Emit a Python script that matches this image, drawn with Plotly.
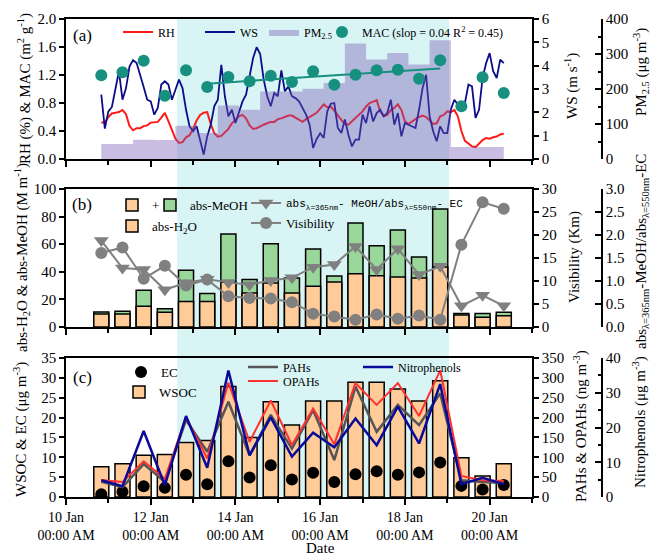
import numpy as np
import pandas as pd
import plotly.graph_objects as go

# ---------------- data ----------------
line_start = "2020-01-10 20:00"     # first 2-hourly meteorological record
sample_start = "2020-01-10 20:00"   # centre of first 12-h filter sample

rh = [0.52, 0.52, 0.60, 0.65, 0.66, 0.67, 0.70, 0.64, 0.47, 0.41,
      0.44, 0.44, 0.47, 0.48, 0.52, 0.53, 0.53, 0.59, 0.66, 0.54,
      0.41, 0.29, 0.23, 0.24, 0.31, 0.34, 0.43, 0.55, 0.63, 0.66,
      0.67, 0.50, 0.37, 0.32, 0.33, 0.38, 0.43, 0.51, 0.56, 0.61,
      0.63, 0.58, 0.48, 0.43, 0.44, 0.47, 0.49, 0.51, 0.53, 0.53,
      0.57, 0.58, 0.60, 0.62, 0.62, 0.59, 0.55, 0.53, 0.57, 0.60,
      0.63, 0.66, 0.72, 0.78, 0.74, 0.75, 0.69, 0.62, 0.56, 0.50,
      0.49, 0.54, 0.59, 0.63, 0.68, 0.75, 0.80, 0.82, 0.84, 0.68,
      0.61, 0.63, 0.70, 0.73, 0.78, 0.70, 0.54, 0.50, 0.54, 0.57,
      0.60, 0.62, 0.60, 0.55, 0.50, 0.51, 0.61, 0.63, 0.68, 0.67,
      0.70, 0.61, 0.40, 0.26, 0.22, 0.18, 0.17, 0.22, 0.27, 0.30,
      0.29, 0.31, 0.32, 0.35, 0.36]

ws = [2.76, 1.30, 2.04, 2.23, 3.00, 3.76, 2.54, 3.04, 3.97, 4.24,
      4.11, 3.54, 3.09, 2.54, 2.47, 1.90, 2.19, 3.19, 3.33, 3.19,
      2.54, 2.97, 3.40, 3.04, 2.11, 1.40, 1.19, 1.40, 0.83, 0.19,
      0.97, 1.47, 2.26, 2.54, 4.04, 2.69, 1.83, 2.11, 1.54, 2.04,
      2.47, 2.76, 3.47, 4.33, 4.79, 4.50, 3.40, 2.69, 2.26, 2.83,
      2.69, 3.80, 2.90, 3.11, 2.69, 2.61, 2.47, 2.19, 1.90, 1.47,
      0.47, 0.86, 1.10, 0.90, 2.04, 2.37, 2.40, 1.33, 1.11, 1.69,
      1.04, 0.54, 0.83, 0.83, 1.90, 1.54, 2.26, 1.61, 1.97, 2.11,
      1.83, 1.97, 2.54, 1.47, 1.97, 0.97, 1.54, 1.47, 1.40, 1.33,
      2.11, 3.04, 3.61, 1.83, 1.19, 0.76, 1.40, 1.11, 1.11, 2.11,
      2.54, 2.33, 2.26, 2.40, 3.19, 3.11, 1.76, 2.11, 3.47, 4.11,
      4.54, 3.76, 3.47, 4.26, 4.11]

pm25 = [43, 43, 55, 54, 95, 74, 153, 141, 193, 193,
        201, 217, 330, 284, 303, 270, 339, 34, 34, 34]
mac = [1.195, 1.238, 1.405, 0.905, 1.267, 1.029, 1.171, 1.110, 1.190, 1.100,
       1.252, 1.062, 1.205, 1.267, 1.276, 1.148, 1.410, 0.752, 1.167, 0.943]

abs_meoh = [10.9, 11.4, 26.6, 13.3, 41.1, 24.2, 67.4, 34.5, 60.4, 35.5,
            56.5, 37.0, 75.4, 58.9, 70.3, 50.7, 85.5, 9.7, 9.7, 10.6]
abs_h2o = [9.4, 9.4, 15.0, 10.6, 18.4, 18.4, 32.4, 24.6, 31.9, 24.6,
           29.5, 32.6, 38.6, 37.2, 36.2, 35.5, 43.5, 8.7, 7.0, 8.2]
visibility = [16.1, 17.3, 10.5, 13.3, 9.0, 10.3, 6.7, 6.3, 6.2, 5.4,
              2.9, 2.3, 1.6, 2.7, 1.8, 2.5, 1.6, 17.9, 27.1, 25.7]
abs_ratio = [1.88, 1.28, 1.25, 0.81, 0.96, 1.04, 0.97, 0.92, 1.01, 1.07,
             1.30, 1.36, 1.75, 1.25, 1.70, 1.14, 1.32, 0.46, 0.69, 0.46]

wsoc = [7.6, 8.4, 10.5, 10.7, 13.7, 14.2, 27.8, 15.0, 24.0, 18.1,
        24.2, 24.2, 28.9, 28.9, 27.2, 24.2, 29.3, 9.9, 5.3, 8.4]
ec = [0.7, 1.3, 2.7, 2.3, 5.6, 3.2, 9.0, 4.9, 8.0, 4.4,
      6.1, 3.8, 5.7, 6.5, 5.6, 6.2, 8.7, 2.8, 1.9, 3.0]
pahs = [38, 25, 83, 38, 194, 114, 240, 105, 207, 122,
        219, 93, 278, 164, 232, 181, 261, 42, 38, 35]
opahs = [43, 38, 90, 46, 201, 97, 288, 139, 243, 131,
         223, 133, 287, 232, 287, 204, 319, 53, 42, 40]
nitrophenols = [4.8, 3.1, 19.0, 3.4, 23.3, 8.4, 36.4, 12.0, 22.9, 11.6,
                18.5, 14.3, 22.6, 14.9, 26.0, 15.4, 32.5, 3.7, 5.5, 3.7]

haze_period = ["2020-01-12 15:00", "2020-01-19 01:00"]
fit_first, fit_last = 5, 17           # samples used for the MAC regression
x_range = ["2020-01-10", "2020-01-21"]
mac_label = "MAC (slop = 0.04 R<sup>2</sup> = 0.45)"

t_line = pd.date_range(line_start, periods=len(rh), freq="2h")
t_samp = pd.date_range(sample_start, periods=len(mac), freq="12h")

tf = t_samp[fit_first:fit_last]
days = np.asarray((tf - tf[0]) / pd.Timedelta(days=1), dtype=float)
coef = np.polyfit(days, np.asarray(mac[fit_first:fit_last]), 1)
fit_x = [tf[0], tf[-1]]
fit_y = list(np.polyval(coef, [days[0], days[-1]]))

# ---------------- geometry / style ----------------
W, H = 652, 554
def fx(px): return px / W
def fy(py): return 1 - py / H

X0, X1, XR = fx(66), fx(532), fx(602)
dom_a = [fy(159), fy(19)]
dom_b = [fy(327), fy(189)]
dom_c = [fy(497), fy(358)]
FONT = "Liberation Serif"
DAY = 86400000
BW = 0.355 * DAY
ORANGE = "#ffcc99"
GREEN = "#99d699"
GRAY = "#808080"
TEAL = "#17907f"

fig = go.Figure()

# panel (a)
fig.add_trace(go.Scatter(x=t_line, y=rh, xaxis="x", yaxis="y", mode="lines",
                         line=dict(color="#ff1a1a", width=2), name="RH", legend="legend"))
fig.add_trace(go.Scatter(x=t_line, y=ws, xaxis="x", yaxis="y2", mode="lines",
                         line=dict(color="#0c0c8a", width=1.8), name="WS", legend="legend2"))
fig.add_trace(go.Scatter(x=t_samp, y=pm25, xaxis="x", yaxis="y3", mode="lines",
                         line=dict(width=0, shape="hvh"), fill="tozeroy",
                         fillcolor="rgba(120,90,180,0.40)", name="PM<sub>2.5</sub>",
                         legend="legend3"))
fig.add_trace(go.Scatter(x=t_samp, y=mac, xaxis="x", yaxis="y4", mode="markers",
                         marker=dict(color=TEAL, size=12), name=mac_label, legend="legend4"))
fig.add_trace(go.Scatter(x=fit_x, y=fit_y, xaxis="x", yaxis="y4", mode="lines",
                         line=dict(color=TEAL, width=2), showlegend=False))

# panel (b)
bar_line = dict(color="black", width=1.5)
fig.add_trace(go.Bar(x=[None], y=[None], xaxis="x2", yaxis="y5",
                     marker=dict(color=ORANGE, line=bar_line), name="+", legend="legend5"))
fig.add_trace(go.Bar(x=t_samp, y=abs_meoh, xaxis="x2", yaxis="y5", width=BW,
                     marker=dict(color=GREEN, line=bar_line), name="abs-MeOH", legend="legend6"))
fig.add_trace(go.Bar(x=t_samp, y=abs_h2o, xaxis="x2", yaxis="y5", width=BW,
                     marker=dict(color=ORANGE, line=bar_line), name="abs-H<sub>2</sub>O",
                     legend="legend7"))
fig.add_trace(go.Scatter(x=t_samp, y=visibility, xaxis="x2", yaxis="y6", mode="lines+markers",
                         line=dict(color=GRAY, width=2),
                         marker=dict(symbol="circle", size=12, color=GRAY),
                         name="Visibility", legend="legend9"))
fig.add_trace(go.Scatter(x=t_samp, y=abs_ratio, xaxis="x2", yaxis="y7", mode="lines+markers",
                         line=dict(color=GRAY, width=2),
                         marker=dict(symbol="triangle-down", size=13, color=GRAY),
                         name="abs<sub>λ=365nm</sub>- MeOH/abs<sub>λ=550nm</sub>- EC",
                         legend="legend8"))

# panel (c)
fig.add_trace(go.Bar(x=t_samp, y=wsoc, xaxis="x3", yaxis="y8", width=BW,
                     marker=dict(color=ORANGE, line=bar_line), name="WSOC", legend="legend11"))
fig.add_trace(go.Scatter(x=t_samp, y=ec, xaxis="x3", yaxis="y8", mode="markers",
                         marker=dict(color="black", size=12), name="EC", legend="legend10"))
fig.add_trace(go.Scatter(x=t_samp, y=pahs, xaxis="x3", yaxis="y9", mode="lines",
                         line=dict(color="#555555", width=2.5), name="PAHs", legend="legend12"))
fig.add_trace(go.Scatter(x=t_samp, y=opahs, xaxis="x3", yaxis="y9", mode="lines",
                         line=dict(color="#ff3030", width=2), name="OPAHs", legend="legend13"))
fig.add_trace(go.Scatter(x=t_samp, y=nitrophenols, xaxis="x3", yaxis="y10", mode="lines",
                         line=dict(color="#0a0a9a", width=2.5), name="Nitrophenols",
                         legend="legend14"))

# ---------------- axes ----------------
axline = dict(showline=True, linecolor="black", linewidth=1.5, showgrid=False,
              zeroline=False, automargin=False, tickcolor="black", tickwidth=1.5)

def xaxis(anchor, labels):
    return dict(axline, type="date", range=x_range, domain=[X0, X1], anchor=anchor,
                mirror=True, ticks="outside", ticklen=6, tick0="2020-01-10", dtick=2 * DAY,
                minor=dict(dtick=DAY, ticks="outside", ticklen=4, tickwidth=1.5,
                           tickcolor="black"),
                showticklabels=labels, tickformat="%d %b<br>%H:%M %p",
                tickfont=dict(size=14))

def yleft(dom, anchor, rng, dtick, fmt=""):
    return dict(axline, domain=dom, anchor=anchor, range=rng, tick0=0, dtick=dtick,
                tickformat=fmt, ticks="outside", ticklen=5, tickfont=dict(size=15))

def yright(over, anchor, rng, dtick, fmt=""):
    return dict(axline, overlaying=over, anchor=anchor, side="right", range=rng, tick0=0,
                dtick=dtick, tickformat=fmt, ticks="outside", ticklen=5,
                tickfont=dict(size=15))

def youter(over, rng, dtick, minor=None, fmt=""):
    d = dict(axline, overlaying=over, anchor="free", position=XR, side="right", range=rng,
             tick0=0, dtick=dtick, tickformat=fmt, ticks="inside", ticklen=6,
             tickfont=dict(size=15))
    if minor:
        d["minor"] = dict(dtick=minor, ticks="inside", ticklen=3, tickwidth=1.5,
                          tickcolor="black")
    return d

layout_axes = dict(
    xaxis=xaxis("y", False), xaxis2=xaxis("y5", False), xaxis3=xaxis("y8", True),
    yaxis=yleft(dom_a, "x", [0, 2], 0.4, ".1f"),
    yaxis2=yright("y", "x", [0, 6], 1),
    yaxis3=youter("y", [0, 400], 100, 50),
    yaxis4=dict(overlaying="y", anchor="x", range=[0, 2], visible=False),
    yaxis5=yleft(dom_b, "x2", [0, 100], 20),
    yaxis6=yright("y5", "x2", [0, 30], 5),
    yaxis7=youter("y5", [0, 3], 0.5, None, ".1f"),
    yaxis8=yleft(dom_c, "x3", [0, 35], 5),
    yaxis9=yright("y8", "x3", [0, 350], 50),
    yaxis10=youter("y8", [0, 40], 10, 5),
)

# ---------------- legends ----------------
def leg(px, py, size=12, family=FONT):
    return dict(x=fx(px), y=fy(py), xanchor="left", yanchor="middle",
                bgcolor="rgba(0,0,0,0)", borderwidth=0, orientation="v",
                font=dict(family=family, size=size, color="black"))

legends = dict(
    legend=leg(118, 32), legend2=leg(200, 32), legend3=leg(264, 32), legend4=leg(322, 32),
    legend5=leg(112, 205, 13), legend6=leg(150, 205, 13), legend7=leg(112, 226, 13),
    legend8=leg(246, 203, 11, "Liberation Mono"), legend9=leg(246, 223, 13),
    legend10=leg(121, 372, 13), legend11=leg(119, 392, 13),
    legend12=leg(243, 367, 12), legend13=leg(243, 381, 12), legend14=leg(358, 367, 12),
)

# ---------------- text ----------------
titles = [
    ("RH (%) & MAC (m<sup>2</sup> g<sup>-1</sup>)", 24, 89),
    ("WS (m s<sup>-1</sup>)", 572, 86),
    ("PM<sub>2.5</sub> (μg m<sup>-3</sup>)", 641, 72),
    ("abs-H<sub>2</sub>O & abs-MeOH (M m<sup>-1</sup>)", 22, 258),
    ("Visibility (Km)", 575, 257),
    ("abs<sub>λ=365nm</sub>-MeOH/abs<sub>λ=550nm</sub>-EC", 642, 252),
    ("WSOC & EC (μg m<sup>-3</sup>)", 20, 430),
    ("PAHs & OPAHs (ng m<sup>-3</sup>)", 580, 426),
    ("Nitrophenols (μg m<sup>-3</sup>)", 640, 422),
]
annotations = [dict(text=t, x=fx(px), y=fy(py), xref="paper", yref="paper",
                    xanchor="center", yanchor="middle", textangle=-90, showarrow=False,
                    font=dict(size=15)) for t, px, py in titles]
for lab, py in [("(a)", 35), ("(b)", 205), ("(c)", 377)]:
    annotations.append(dict(text=lab, x=fx(82), y=fy(py), xref="paper", yref="paper",
                            xanchor="center", yanchor="middle", showarrow=False,
                            font=dict(size=17)))
annotations.append(dict(text="Date", x=fx(320), y=fy(548), xref="paper", yref="paper",
                        xanchor="center", yanchor="middle", showarrow=False,
                        font=dict(size=15)))

shapes = [dict(type="rect", xref="x", yref="paper", x0=haze_period[0], x1=haze_period[1],
               y0=dom_c[0], y1=dom_a[1], fillcolor="#d8f4f4", line=dict(width=0),
               layer="below")]

fig.update_layout(
    width=W, height=H, margin=dict(l=0, r=0, t=0, b=0),
    paper_bgcolor="white", plot_bgcolor="rgba(0,0,0,0)",
    font=dict(family=FONT, size=14, color="black"),
    barmode="overlay", annotations=annotations, shapes=shapes,
    **layout_axes, **legends,
)

fig.write_html("out.html", config={"displayModeBar": False},
               post_script="document.body.style.margin='0';document.body.style.padding='0';")
